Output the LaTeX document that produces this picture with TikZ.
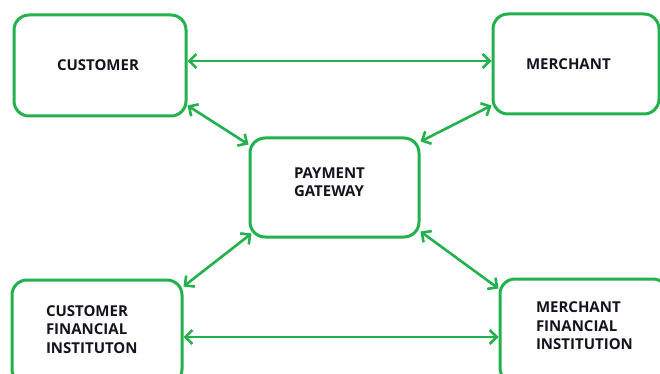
\documentclass[tikz,border=0pt]{standalone}
\usepackage{fontspec}
\setmainfont{Open Sans}
\usepackage{tikz}
\usetikzlibrary{arrows.meta, positioning, calc}
\definecolor{mygreen}{RGB}{34,177,76}
\definecolor{mytext}{RGB}{20,20,30}
\tikzset{
  box/.style={rectangle, draw=mygreen, line width=3pt, rounded corners=15pt,
    align=left, inner xsep=0pt, text=mytext, font=\fontsize{15}{18.5}\selectfont\bfseries},
  arrow/.style={{Straight Barb[length=7pt, width=14pt]}-{Straight Barb[length=7pt, width=14pt]},
    draw=mygreen, line width=2.6pt}
}
\begin{document}
\begin{tikzpicture}[x=1pt, y=-1pt]
  \useasboundingbox (0,0) rectangle (660,374);
  % Parties
  \node[box, minimum width=172pt, minimum height=101pt, text width=86pt] (cust) at (100,65.5) {CUSTOMER};
  \node[box, minimum width=166pt, minimum height=100pt, text width=100pt] (merch) at (576,64) {MERCHANT};
  % Gateway
  \node[box, minimum width=169pt, minimum height=99pt, text width=81pt, text depth=29pt] (pg) at (334.5,187.5) {PAYMENT\\GATEWAY};
  % Banks
  \node[box, minimum width=170pt, minimum height=104pt, text width=102pt, text depth=42pt] (cfi) at (97,332) {CUSTOMER\\FINANCIAL\\INSTITUTON};
  \node[box, minimum width=168pt, minimum height=104pt, text width=96pt, text depth=47pt] (mfi) at (584,331) {MERCHANT\\FINANCIAL\\INSTITUTION};
  % Connections
  \draw[arrow] ([yshift=4.5pt]cust.east) -- ([yshift=4.5pt]cust.east -| merch.west);
  \draw[arrow] ([yshift=12pt]cust.south east) -- ([yshift=-8pt]pg.north west);
  \draw[arrow] ([yshift=10pt]merch.south west) -- ([yshift=-5pt]pg.north east);
  \draw[arrow] ([xshift=3pt, yshift=5pt]pg.south west) -- ([yshift=-8pt]cfi.north east);
  \draw[arrow] ([yshift=7pt]pg.south east) -- ([yshift=-11pt]mfi.north west);
  \draw[arrow] ([yshift=-5pt]cfi.east) -- ([yshift=-5pt]cfi.east -| mfi.west);
\end{tikzpicture}
\end{document}
